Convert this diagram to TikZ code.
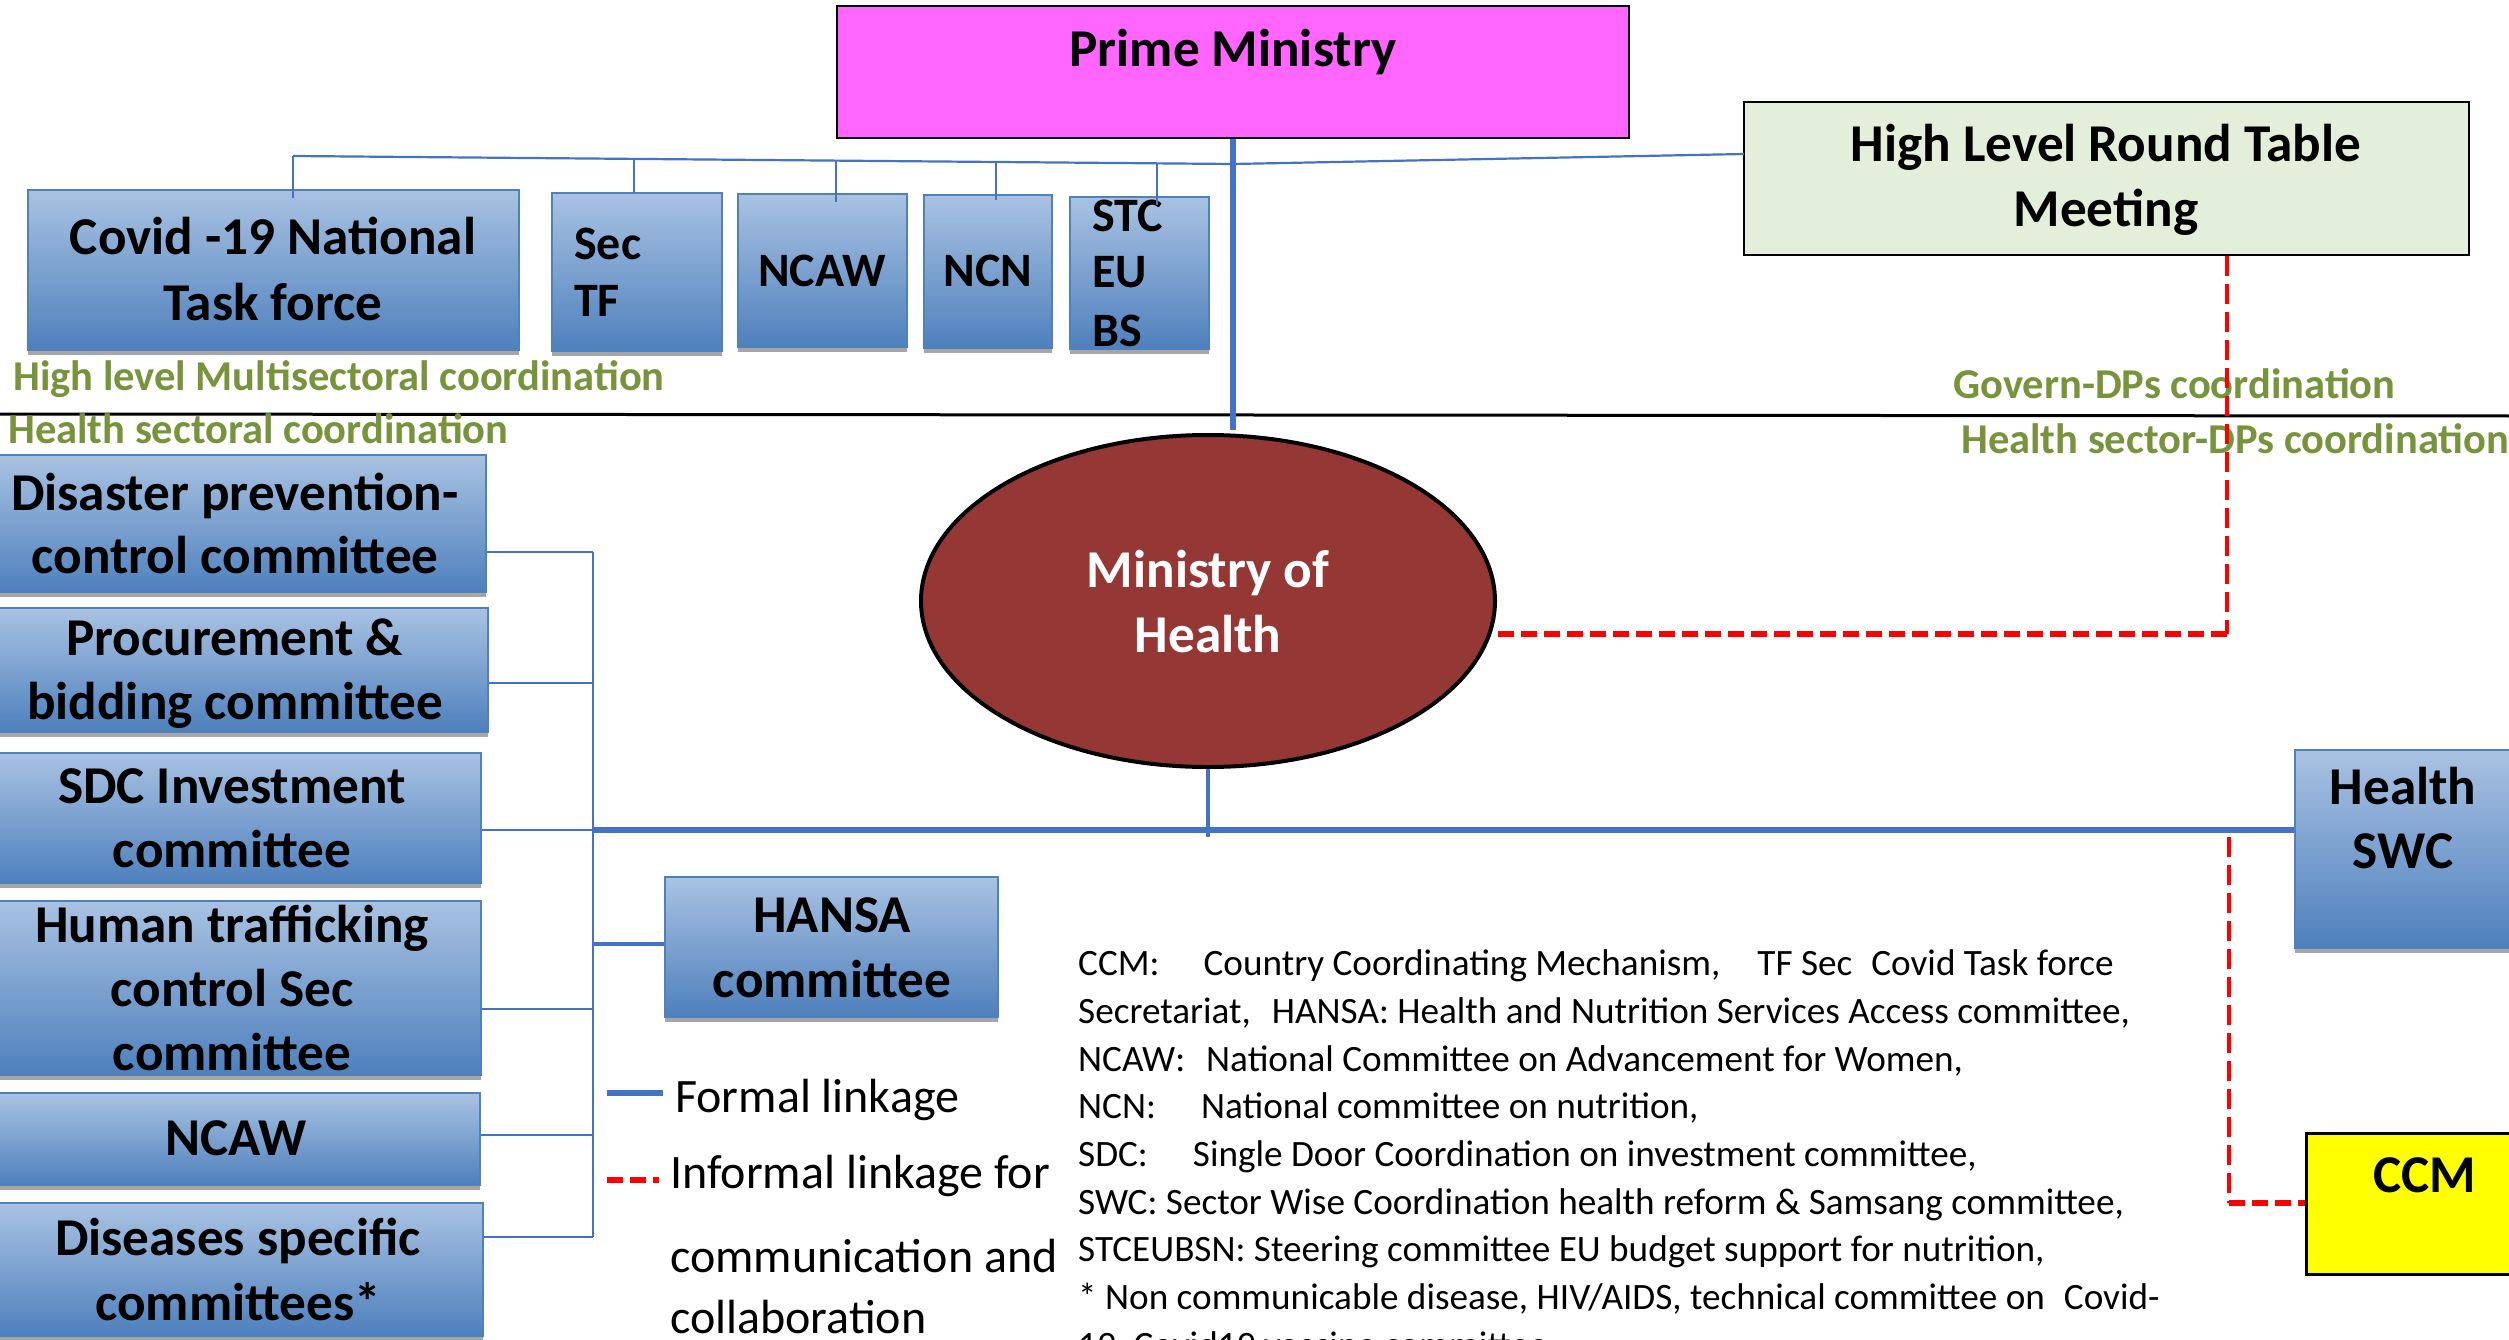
\documentclass[tikz,border=0pt]{standalone}
\usepackage{fontspec}
\setmainfont{Carlito}
\usetikzlibrary{shadows,shapes.geometric}
\definecolor{pmmag}{HTML}{FF66FF}
\definecolor{rtgreen}{HTML}{E3EFDB}
\definecolor{mohred}{HTML}{953735}
\definecolor{lnblue}{HTML}{4472C4}
\definecolor{labgreen}{HTML}{77933C}
\definecolor{boxtop}{HTML}{A9C2E2}
\definecolor{boxbot}{HTML}{4E80BD}
\definecolor{boxedge}{HTML}{4F81BD}
\definecolor{shgray}{HTML}{A6A6A6}
\definecolor{ccmyel}{HTML}{FFFF00}
\definecolor{dashred}{HTML}{FF0000}
\newcommand{\bxf}{\bfseries\fontsize{53.2}{65}\selectfont}
\newcommand{\smf}{\bfseries\fontsize{48}{57}\selectfont}
\tikzset{
  bluebox/.style={rectangle, draw=boxedge, line width=2.5pt, top color=boxtop, bottom color=boxbot, inner sep=0pt,
    drop shadow={shadow xshift=0pt, shadow yshift=-5pt, shadow scale=1, fill=shgray, opacity=1}},
  plainbox/.style={rectangle, draw=black, line width=2.5pt, inner sep=0pt},
  bt/.style={font=\bxf, inner sep=0pt, anchor=base},
  st/.style={font=\smf, inner sep=0pt, anchor=base west},
  gt/.style={font=\bfseries\fontsize{42.5}{50}\selectfont, text=labgreen, inner sep=0pt, anchor=base west},
  lg/.style={font=\fontsize{37.2}{48}\selectfont, inner sep=0pt, anchor=base west},
  lk/.style={font=\fontsize{48}{58}\selectfont, inner sep=0pt, anchor=base west},
  thinblue/.style={draw=lnblue, line width=2.2pt},
  thickblue/.style={draw=lnblue, line width=6.5pt},
  midblue/.style={draw=lnblue, line width=4pt},
  reddashv/.style={draw=dashred, line width=3.5pt, dash pattern=on 20pt off 8pt},
  reddashh/.style={draw=dashred, line width=5.5pt, dash pattern=on 16pt off 7pt},
}
\begin{document}
\begin{tikzpicture}[x=1pt,y=-1pt]
\useasboundingbox (0,0) rectangle (2509,1340);
\clip (0,0) rectangle (2509,1340);
\fill[white] (0,0) rectangle (2509,1340);

% divider
\draw[line width=3pt] (0,414) -- (2509,416);

% green labels
\node[gt] (g1) at (13,390) {High level Multisectoral coordination};
\node[gt] (g2) at (8,443) {Health sectoral coordination};
\node[gt] (g3) at (1953,398) {Govern-DPs coordination};
\node[gt] (g4) at (1961,453) {Health sector-DPs coordination};

% top boxes
\node[plainbox, fill=pmmag, minimum width=792, minimum height=132] (pm) at (1233,72) {};
\node[bt] (pmt) at (1233,67) {Prime Ministry};
\node[plainbox, fill=rtgreen, minimum width=725, minimum height=153] (hlrt) at (2106.5,178.5) {};
\node[bt] (hlrt1) at (2106,162) {High Level Round Table};
\node[bt] (hlrt2) at (2106,227) {Meeting};

\node[bluebox, minimum width=491, minimum height=160] (cov) at (273.5,270) {};
\node[bt] (cov1) at (273,255) {Covid -19 National};
\node[bt] (cov2) at (273,320) {Task force};
\node[bluebox, minimum width=170, minimum height=158] (sectf) at (637,272) {};
\node[st] (sec1) at (574,260) {Sec};
\node[st] (sec2) at (574,317) {TF};
\node[bluebox, minimum width=169, minimum height=153] (ncawa) at (822.5,270.5) {};
\node[st, anchor=base] (ncawat) at (822,287) {NCAW};
\node[bluebox, minimum width=128, minimum height=153] (ncn) at (988,271.5) {};
\node[st, anchor=base] (ncnt) at (988,287) {NCN};
\node[bluebox, minimum width=139, minimum height=152] (stc) at (1139.5,273) {};
\node[st] (stc1) at (1092,232) {STC};
\node[st] (stc2) at (1092,288) {EU};
\node[st] (stc3) at (1092,347) {BS};

% top connectors
\coordinate (t1) at (293,156);
\coordinate (t2) at (634,158.9);
\coordinate (t3) at (836,160.6);
\coordinate (t4) at (996,162);
\coordinate (t5) at (1157,163.4);
\coordinate (jc) at (1233,164);
\coordinate (hj) at (1744,154);
\coordinate (b1) at (293,198);
\coordinate (b2) at (634,193);
\coordinate (b3) at (836,202);
\coordinate (b4) at (996,200);
\coordinate (b5) at (1157,205);
\coordinate (pme) at (1233,430);
\draw[thinblue] (t1) -- (jc) -- (hj);
\draw[thinblue] (t1) -- (b1);
\draw[thinblue] (t2) -- (b2);
\draw[thinblue] (t3) -- (b3);
\draw[thinblue] (t4) -- (b4);
\draw[thinblue] (t5) -- (b5);
\draw[thickblue, line width=6pt] (pm.south) -- (pme);

% red dashed (upper)
\coordinate (r1) at (2227,634);
\draw[reddashv] (r1 |- hlrt.south) -- (r1);
\draw[reddashh] (r1) -- (1480,634);

% Ministry of Health
\node[ellipse, draw=black, line width=4pt, fill=mohred, minimum width=574, minimum height=332, inner sep=0pt] (moh) at (1208,601) {};
\node[bt, text=white] (moh1) at (1208,587) {Ministry of};
\node[bt, text=white] (moh2) at (1208,652) {Health};

% left boxes
\node[bluebox, minimum width=501, minimum height=137] (dis) at (235.5,523.5) {};
\node[bt] (dis1) at (235,510) {Disaster prevention-};
\node[bt] (dis2) at (235,573) {control committee};
\node[bluebox, minimum width=503, minimum height=124] (pro) at (236.5,670) {};
\node[bt] (pro1) at (235,655) {Procurement \&};
\node[bt] (pro2) at (235,719) {bidding committee};
\node[bluebox, minimum width=496, minimum height=130] (sdc) at (233,818) {};
\node[bt] (sdc1) at (232,803) {SDC Investment};
\node[bt] (sdc2) at (232,867) {committee};
\node[bluebox, minimum width=496, minimum height=174] (hum) at (233,988) {};
\node[bt] (hum1) at (232,942) {Human trafficking};
\node[bt] (hum2) at (232,1006) {control Sec};
\node[bt] (hum3) at (232,1070) {committee};
\node[bluebox, minimum width=495, minimum height=92] (ncawb) at (232.5,1139) {};
\node[bt] (ncawbt) at (236,1155) {NCAW};
\node[bluebox, minimum width=498, minimum height=133] (dsc) at (234,1269.5) {};
\node[bt] (dsc1) at (238,1255) {Diseases specific};
\node[bt] (dsc2) at (238,1320) {committees*};

\node[bluebox, minimum width=333, minimum height=140] (hansa) at (831.5,947) {};
\node[bt] (hansa1) at (832,932) {HANSA};
\node[bt] (hansa2) at (832,997) {committee};

\node[bluebox, minimum width=220, minimum height=198] (swc) at (2405,849) {};
\node[bt] (swc1) at (2403,804) {Health};
\node[bt] (swc2) at (2403,868) {SWC};

% red dashed (lower)
\coordinate (r2) at (2229,837);
\coordinate (r3) at (2229,1203);
\draw[reddashv] (r2) -- (r3);

\node[plainbox, line width=3pt, fill=ccmyel, minimum width=240, minimum height=141] (ccm) at (2426,1203.5) {};
\node[bt] (ccmt) at (2425,1192) {CCM};
\draw[reddashh] (r3) -- (r3 -| ccm.west);

% lower blue connectors
\coordinate (v1) at (593,552);
\coordinate (v2) at (593,683);
\coordinate (v3) at (593,830);
\coordinate (v4) at (593,1009);
\coordinate (v5) at (593,944);
\coordinate (v6) at (593,1135);
\coordinate (v7) at (593,1237);
\coordinate (mb) at (1208,837);
\draw[thinblue] (v1) -- (v7);
\draw[thinblue] (v1 -| dis.east) -- (v1);
\draw[thinblue] (v2 -| pro.east) -- (v2);
\draw[thinblue] (v3 -| sdc.east) -- (v3);
\draw[thinblue] (v4 -| hum.east) -- (v4);
\draw[midblue] (v5) -- (v5 -| hansa.west);
\draw[thinblue] (v6 -| ncawb.east) -- (v6);
\draw[thinblue] (v7 -| dsc.east) -- (v7);
\draw[thickblue] (v3) -- (v3 -| swc.west);
\draw[midblue] (moh.south) -- (mb);

% legend
\coordinate (lf1) at (607,1093);
\coordinate (lf2) at (663,1093);
\draw[thickblue] (lf1) -- (lf2);
\coordinate (li1) at (607,1180);
\coordinate (li2) at (659,1180);
\draw[reddashh] (li1) -- (li2);
\node[lk] (lkf) at (675,1112) {Formal linkage};
\node[lk] (lki1) at (670,1188) {Informal linkage for};
\node[lk] (lki2) at (670,1272) {communication and};
\node[lk] (lki3) at (670,1333) {collaboration};

% abbreviations
\node[lg] (a1) at (1078,975) {CCM:\hspace*{44pt}Country Coordinating Mechanism,\hspace*{37pt}TF Sec\hspace*{19pt}Covid Task force};
\node[lg] (a2) at (1078,1023) {Secretariat,\hspace*{21pt}HANSA: Health and Nutrition Services Access committee,};
\node[lg] (a3) at (1078,1071) {NCAW:\hspace*{21pt}National Committee on Advancement for Women,};
\node[lg] (a4) at (1078,1118.5) {NCN:\hspace*{45pt}National committee on nutrition,};
\node[lg] (a5) at (1078,1166) {SDC:\hspace*{45pt}Single Door Coordination on investment committee,};
\node[lg] (a6) at (1078,1214) {SWC: Sector Wise Coordination health reform \& Samsang committee,};
\node[lg] (a7) at (1078,1261) {STCEUBSN: Steering committee EU budget support for nutrition,};
\node[lg] (a8) at (1078,1309) {* Non communicable disease, HIV/AIDS, technical committee on\hspace*{19pt}Covid-};
\node[lg] (a9) at (1078,1357) {19, Covid19 vaccine committee};
\end{tikzpicture}
\end{document}
